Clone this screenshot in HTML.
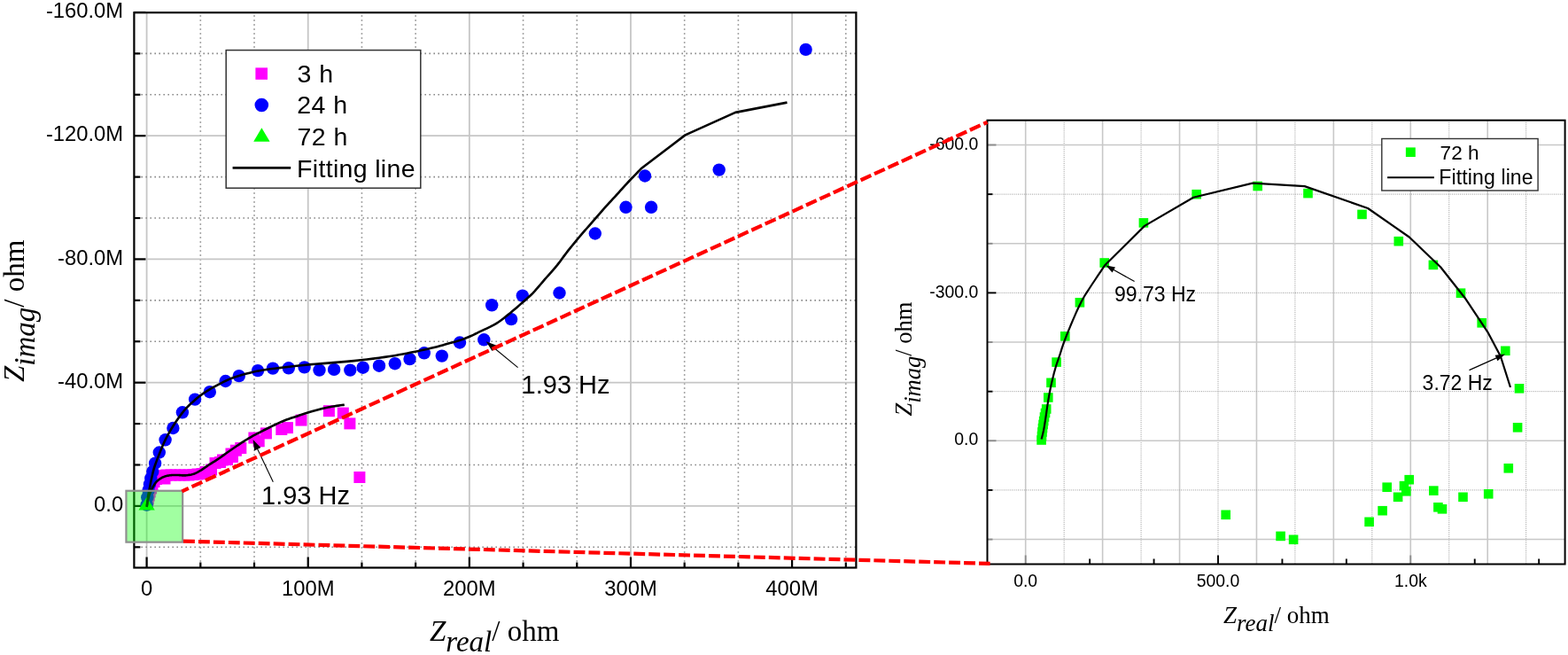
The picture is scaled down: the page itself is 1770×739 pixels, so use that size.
<!DOCTYPE html>
<html><head><meta charset="utf-8"><title>Nyquist plot</title>
<style>html,body{margin:0;padding:0;background:#fff;width:1770px;height:739px;overflow:hidden}</style>
</head><body>
<svg width="1770" height="739" viewBox="0 0 1770 739" style="display:block">
<rect x="0" y="0" width="1770" height="739" fill="#fff"/>
<g id="lgrid">
<line x1="165.6" y1="14.2" x2="165.6" y2="640.5" stroke="#c6c6c6" stroke-width="1.8"/>
<line x1="226.31" y1="17.2" x2="226.31" y2="640.5" stroke="#8a8a8a" stroke-width="1.6" stroke-dasharray="1.6 3.4"/>
<line x1="287.02" y1="17.2" x2="287.02" y2="640.5" stroke="#8a8a8a" stroke-width="1.6" stroke-dasharray="1.6 3.4"/>
<line x1="347.73" y1="14.2" x2="347.73" y2="640.5" stroke="#c6c6c6" stroke-width="1.8"/>
<line x1="408.43" y1="17.2" x2="408.43" y2="640.5" stroke="#8a8a8a" stroke-width="1.6" stroke-dasharray="1.6 3.4"/>
<line x1="469.14" y1="17.2" x2="469.14" y2="640.5" stroke="#8a8a8a" stroke-width="1.6" stroke-dasharray="1.6 3.4"/>
<line x1="529.85" y1="14.2" x2="529.85" y2="640.5" stroke="#c6c6c6" stroke-width="1.8"/>
<line x1="590.56" y1="17.2" x2="590.56" y2="640.5" stroke="#8a8a8a" stroke-width="1.6" stroke-dasharray="1.6 3.4"/>
<line x1="651.27" y1="17.2" x2="651.27" y2="640.5" stroke="#8a8a8a" stroke-width="1.6" stroke-dasharray="1.6 3.4"/>
<line x1="711.98" y1="14.2" x2="711.98" y2="640.5" stroke="#c6c6c6" stroke-width="1.8"/>
<line x1="772.68" y1="17.2" x2="772.68" y2="640.5" stroke="#8a8a8a" stroke-width="1.6" stroke-dasharray="1.6 3.4"/>
<line x1="833.39" y1="17.2" x2="833.39" y2="640.5" stroke="#8a8a8a" stroke-width="1.6" stroke-dasharray="1.6 3.4"/>
<line x1="894.1" y1="14.2" x2="894.1" y2="640.5" stroke="#c6c6c6" stroke-width="1.8"/>
<line x1="954.81" y1="17.2" x2="954.81" y2="640.5" stroke="#8a8a8a" stroke-width="1.6" stroke-dasharray="1.6 3.4"/>
<line x1="154.4" y1="617.31" x2="966.4" y2="617.31" stroke="#8a8a8a" stroke-width="1.6" stroke-dasharray="1.6 3.4"/>
<line x1="151.4" y1="570.9" x2="966.4" y2="570.9" stroke="#c6c6c6" stroke-width="1.8"/>
<line x1="154.4" y1="524.49" x2="966.4" y2="524.49" stroke="#8a8a8a" stroke-width="1.6" stroke-dasharray="1.6 3.4"/>
<line x1="154.4" y1="478.08" x2="966.4" y2="478.08" stroke="#8a8a8a" stroke-width="1.6" stroke-dasharray="1.6 3.4"/>
<line x1="151.4" y1="431.67" x2="966.4" y2="431.67" stroke="#c6c6c6" stroke-width="1.8"/>
<line x1="154.4" y1="385.26" x2="966.4" y2="385.26" stroke="#8a8a8a" stroke-width="1.6" stroke-dasharray="1.6 3.4"/>
<line x1="154.4" y1="338.85" x2="966.4" y2="338.85" stroke="#8a8a8a" stroke-width="1.6" stroke-dasharray="1.6 3.4"/>
<line x1="151.4" y1="292.44" x2="966.4" y2="292.44" stroke="#c6c6c6" stroke-width="1.8"/>
<line x1="154.4" y1="246.03" x2="966.4" y2="246.03" stroke="#8a8a8a" stroke-width="1.6" stroke-dasharray="1.6 3.4"/>
<line x1="154.4" y1="199.63" x2="966.4" y2="199.63" stroke="#8a8a8a" stroke-width="1.6" stroke-dasharray="1.6 3.4"/>
<line x1="151.4" y1="153.22" x2="966.4" y2="153.22" stroke="#c6c6c6" stroke-width="1.8"/>
<line x1="154.4" y1="106.81" x2="966.4" y2="106.81" stroke="#8a8a8a" stroke-width="1.6" stroke-dasharray="1.6 3.4"/>
<line x1="154.4" y1="60.4" x2="966.4" y2="60.4" stroke="#8a8a8a" stroke-width="1.6" stroke-dasharray="1.6 3.4"/>
</g>
<g stroke="#000" stroke-width="2.2">
<line x1="151.4" y1="617.31" x2="158.4" y2="617.31"/>
<line x1="151.4" y1="570.9" x2="164.4" y2="570.9"/>
<line x1="151.4" y1="524.49" x2="158.4" y2="524.49"/>
<line x1="151.4" y1="478.08" x2="158.4" y2="478.08"/>
<line x1="151.4" y1="431.67" x2="164.4" y2="431.67"/>
<line x1="151.4" y1="385.26" x2="158.4" y2="385.26"/>
<line x1="151.4" y1="338.85" x2="158.4" y2="338.85"/>
<line x1="151.4" y1="292.44" x2="164.4" y2="292.44"/>
<line x1="151.4" y1="246.03" x2="158.4" y2="246.03"/>
<line x1="151.4" y1="199.63" x2="158.4" y2="199.63"/>
<line x1="151.4" y1="153.22" x2="164.4" y2="153.22"/>
<line x1="151.4" y1="106.81" x2="158.4" y2="106.81"/>
<line x1="151.4" y1="60.4" x2="158.4" y2="60.4"/>
<line x1="151.4" y1="13.99" x2="164.4" y2="13.99"/>
<line x1="165.6" y1="640.5" x2="165.6" y2="628.5"/>
<line x1="226.31" y1="640.5" x2="226.31" y2="634.5"/>
<line x1="287.02" y1="640.5" x2="287.02" y2="634.5"/>
<line x1="347.73" y1="640.5" x2="347.73" y2="628.5"/>
<line x1="408.43" y1="640.5" x2="408.43" y2="634.5"/>
<line x1="469.14" y1="640.5" x2="469.14" y2="634.5"/>
<line x1="529.85" y1="640.5" x2="529.85" y2="628.5"/>
<line x1="590.56" y1="640.5" x2="590.56" y2="634.5"/>
<line x1="651.27" y1="640.5" x2="651.27" y2="634.5"/>
<line x1="711.98" y1="640.5" x2="711.98" y2="628.5"/>
<line x1="772.68" y1="640.5" x2="772.68" y2="634.5"/>
<line x1="833.39" y1="640.5" x2="833.39" y2="634.5"/>
<line x1="894.1" y1="640.5" x2="894.1" y2="628.5"/>
<line x1="954.81" y1="640.5" x2="954.81" y2="634.5"/>
</g>
<g font-family="'Liberation Sans', Arial, sans-serif" font-size="23.8" fill="#000">
<text x="139.2" y="20.19" text-anchor="end">-160.0M</text>
<text x="139.2" y="159.42" text-anchor="end">-120.0M</text>
<text x="139.2" y="298.64" text-anchor="end">-80.0M</text>
<text x="139.2" y="437.87" text-anchor="end">-40.0M</text>
<text x="139.2" y="577.1" text-anchor="end">0.0</text>
<text x="165.6" y="672" text-anchor="middle">0</text>
<text x="347.73" y="672" text-anchor="middle">100M</text>
<text x="529.85" y="672" text-anchor="middle">200M</text>
<text x="711.98" y="672" text-anchor="middle">300M</text>
<text x="894.1" y="672" text-anchor="middle">400M</text>
</g>
<g fill="#ff00ff">
<rect x="160" y="560.5" width="13" height="13"/>
<rect x="160.8" y="556.5" width="13" height="13"/>
<rect x="161.7" y="552.5" width="13" height="13"/>
<rect x="162.7" y="548.5" width="13" height="13"/>
<rect x="164" y="544.5" width="13" height="13"/>
<rect x="165.5" y="540.5" width="13" height="13"/>
<rect x="167.5" y="537" width="13" height="13"/>
<rect x="170" y="534" width="13" height="13"/>
<rect x="172.5" y="531.5" width="13" height="13"/>
<rect x="176.5" y="530" width="13" height="13"/>
<rect x="181.5" y="529.5" width="13" height="13"/>
<rect x="186.5" y="529.5" width="13" height="13"/>
<rect x="191.5" y="529.5" width="13" height="13"/>
<rect x="196.5" y="529.5" width="13" height="13"/>
<rect x="201.5" y="529.5" width="13" height="13"/>
<rect x="206.5" y="529.5" width="13" height="13"/>
<rect x="211.5" y="529" width="13" height="13"/>
<rect x="216.5" y="528.5" width="13" height="13"/>
<rect x="221.5" y="528" width="13" height="13"/>
<rect x="225.5" y="526" width="13" height="13"/>
<rect x="232" y="523.5" width="13" height="13"/>
<rect x="236.5" y="516" width="13" height="13"/>
<rect x="242" y="515" width="13" height="13"/>
<rect x="245" y="512.5" width="13" height="13"/>
<rect x="250" y="512" width="13" height="13"/>
<rect x="254.5" y="505.5" width="13" height="13"/>
<rect x="256" y="509" width="13" height="13"/>
<rect x="259.9" y="501.7" width="13" height="13"/>
<rect x="265.3" y="499" width="13" height="13"/>
<rect x="280.4" y="487.5" width="13" height="13"/>
<rect x="285.7" y="491.3" width="13" height="13"/>
<rect x="293.9" y="482.4" width="13" height="13"/>
<rect x="311.3" y="478" width="13" height="13"/>
<rect x="317.9" y="476.1" width="13" height="13"/>
<rect x="333.5" y="467.6" width="13" height="13"/>
<rect x="364.9" y="457.2" width="13" height="13"/>
<rect x="380.8" y="459.6" width="13" height="13"/>
<rect x="388.4" y="471.4" width="13" height="13"/>
<rect x="399.4" y="532" width="13" height="13"/>
<rect x="175.5" y="532" width="13" height="13"/>
<rect x="179.5" y="533.5" width="13" height="13"/>
</g>
<g fill="#0000ff">
<circle cx="165.6" cy="569.6" r="7.2"/>
<circle cx="166.3" cy="561.3" r="7.2"/>
<circle cx="167.6" cy="553.1" r="7.2"/>
<circle cx="169" cy="546.4" r="7.2"/>
<circle cx="170.3" cy="539.6" r="7.2"/>
<circle cx="172.3" cy="532.1" r="7.2"/>
<circle cx="175.1" cy="522.7" r="7.2"/>
<circle cx="179.8" cy="510.5" r="7.2"/>
<circle cx="186.6" cy="496.3" r="7.2"/>
<circle cx="195.4" cy="483" r="7.2"/>
<circle cx="205.9" cy="465.3" r="7.2"/>
<circle cx="220.1" cy="450.6" r="7.2"/>
<circle cx="236.8" cy="442.2" r="7.2"/>
<circle cx="254.6" cy="430" r="7.2"/>
<circle cx="269.8" cy="424.1" r="7.2"/>
<circle cx="291" cy="418.1" r="7.2"/>
<circle cx="308" cy="415.6" r="7.2"/>
<circle cx="325.8" cy="415.3" r="7.2"/>
<circle cx="343.6" cy="414.4" r="7.2"/>
<circle cx="360.5" cy="417.6" r="7.2"/>
<circle cx="377.1" cy="416.9" r="7.2"/>
<circle cx="395.3" cy="417.6" r="7.2"/>
<circle cx="409.7" cy="414.7" r="7.2"/>
<circle cx="428" cy="412.7" r="7.2"/>
<circle cx="445.8" cy="410.2" r="7.2"/>
<circle cx="462.5" cy="405.1" r="7.2"/>
<circle cx="478.8" cy="398.3" r="7.2"/>
<circle cx="498.8" cy="401.6" r="7.2"/>
<circle cx="519" cy="386.5" r="7.2"/>
<circle cx="546.3" cy="383.3" r="7.2"/>
<circle cx="555.2" cy="344.3" r="7.2"/>
<circle cx="577.1" cy="360.1" r="7.2"/>
<circle cx="589.8" cy="333.6" r="7.2"/>
<circle cx="631.5" cy="330.5" r="7.2"/>
<circle cx="671.8" cy="263.5" r="7.2"/>
<circle cx="706.5" cy="233.8" r="7.2"/>
<circle cx="735.1" cy="233.8" r="7.2"/>
<circle cx="728" cy="198.5" r="7.2"/>
<circle cx="811.7" cy="191.6" r="7.2"/>
<circle cx="909.6" cy="55.9" r="7.2"/>
</g>
<path d="M165.6,561 L174.8,575.5 L156.4,575.5 Z" fill="#00ff00"/>
<polyline points="165.8,570.9 165.96,569.59 166.17,567.76 166.43,565.59 166.71,563.29 167,561.03 167.3,559 167.6,557.2 167.92,555.48 168.25,553.81 168.59,552.14 168.94,550.45 169.3,548.7 169.66,546.88 170.03,545.01 170.41,543.11 170.79,541.21 171.19,539.34 171.6,537.5 171.99,535.76 172.36,534.11 172.74,532.49 173.17,530.81 173.68,529 174.3,527 175.05,524.77 175.9,522.37 176.84,519.85 177.83,517.25 178.86,514.62 179.9,512 180.95,509.38 182.02,506.71 183.12,504.02 184.28,501.31 185.5,498.6 186.8,495.9 188.17,493.22 189.61,490.53 191.11,487.85 192.68,485.17 194.31,482.48 196,479.8 197.78,477.06 199.66,474.26 201.61,471.46 203.58,468.73 205.56,466.12 207.5,463.7 209.42,461.49 211.33,459.43 213.25,457.51 215.17,455.68 217.08,453.92 219,452.2 220.86,450.56 222.66,449.03 224.46,447.57 226.33,446.14 228.32,444.69 230.5,443.2 232.89,441.64 235.44,440.06 238.12,438.46 240.89,436.87 243.73,435.31 246.6,433.8 249.45,432.34 252.28,430.9 255.18,429.49 258.22,428.12 261.47,426.79 265,425.5 268.86,424.24 272.99,422.99 277.34,421.79 281.83,420.64 286.41,419.57 291,418.6 295.66,417.74 300.46,416.99 305.34,416.31 310.25,415.69 315.16,415.09 320,414.5 324.53,413.94 328.74,413.44 332.93,412.96 337.43,412.49 342.55,411.97 348.6,411.4 355.91,410.76 364.3,410.09 373.31,409.37 382.48,408.64 391.36,407.88 399.5,407.1 407,406.3 414.26,405.46 421.23,404.59 427.86,403.72 434.13,402.85 440,402 445.37,401.16 450.25,400.33 454.76,399.49 459.03,398.66 463.17,397.83 467.3,397 471.4,396.17 475.38,395.33 479.23,394.5 482.95,393.67 486.54,392.83 490,392 493.35,391.14 496.61,390.26 499.73,389.38 502.69,388.52 505.46,387.72 508,387 510.24,386.4 512.19,385.9 513.94,385.45 515.59,385.01 517.25,384.55 519,384 520.84,383.38 522.68,382.72 524.52,382.03 526.36,381.31 528.19,380.57 530,379.8 531.69,379.05 533.24,378.33 534.78,377.59 536.43,376.77 538.33,375.82 540.6,374.7 543.36,373.39 546.53,371.93 549.95,370.34 553.44,368.66 556.85,366.9 560,365.1 562.91,363.22 565.71,361.23 568.43,359.16 571.07,357.06 573.65,354.96 576.2,352.9 578.72,350.84 581.19,348.76 583.61,346.67 585.96,344.61 588.23,342.61 590.4,340.7 592.42,338.95 594.28,337.37 596.06,335.84 597.83,334.27 599.65,332.55 601.6,330.6 603.67,328.37 605.81,325.95 608.01,323.39 610.25,320.74 612.52,318.06 614.8,315.4 617.13,312.75 619.53,310.04 621.96,307.31 624.38,304.57 626.74,301.82 629,299.1 631.13,296.41 633.14,293.73 635.1,291.06 637.06,288.37 639.07,285.66 641.2,282.9 643.45,280.08 645.79,277.21 648.18,274.31 650.59,271.4 653.01,268.53 655.4,265.7 657.77,262.93 660.13,260.2 662.5,257.49 664.87,254.79 667.23,252.1 669.6,249.4 671.99,246.66 674.41,243.88 676.83,241.11 679.22,238.37 681.55,235.73 683.8,233.2 685.92,230.85 687.91,228.66 689.86,226.56 691.8,224.46 693.79,222.3 695.9,220 698.14,217.54 700.46,214.97 702.83,212.33 705.23,209.68 707.63,207.05 710,204.5 712.5,201.86 715.19,199.06 717.88,196.28 720.37,193.72 722.48,191.57 724,190 773.5,152.4 830.1,126.9 888.5,115.6" fill="none" stroke="#000" stroke-width="2.6" stroke-linejoin="round"/>
<polyline points="165.6,572.1 165.8,570.97 166.07,569.38 166.39,567.51 166.75,565.53 167.13,563.64 167.5,562 167.85,560.65 168.18,559.45 168.53,558.32 168.93,557.21 169.41,556.02 170,554.7 170.73,553.17 171.59,551.47 172.52,549.7 173.49,547.97 174.47,546.37 175.4,545 176.3,543.88 177.21,542.92 178.11,542.1 179.01,541.38 179.91,540.72 180.8,540.1 181.67,539.53 182.53,539.04 183.38,538.62 184.24,538.26 185.11,537.92 186,537.6 186.93,537.3 187.88,537.04 188.84,536.81 189.81,536.61 190.77,536.44 191.7,536.3 192.6,536.19 193.49,536.11 194.36,536.06 195.23,536.03 196.11,536.02 197,536 197.92,535.99 198.86,536 199.8,536.01 200.73,536.04 201.64,536.07 202.5,536.1 203.31,536.14 204.09,536.2 204.83,536.27 205.56,536.33 206.28,536.38 207,536.4 207.68,536.41 208.3,536.42 208.91,536.41 209.57,536.38 210.31,536.31 211.2,536.2 212.26,536.05 213.45,535.88 214.74,535.68 216.07,535.42 217.41,535.1 218.7,534.7 219.95,534.22 221.19,533.68 222.43,533.08 223.68,532.41 224.97,531.68 226.3,530.9 227.66,530.05 229.04,529.12 230.45,528.14 231.9,527.11 233.42,526.06 235,525 236.68,523.93 238.44,522.83 240.27,521.71 242.12,520.57 243.98,519.4 245.8,518.2 247.6,516.97 249.4,515.69 251.19,514.39 252.99,513.09 254.79,511.78 256.6,510.5 258.41,509.23 260.23,507.97 262.05,506.71 263.87,505.46 265.69,504.22 267.5,503 269.3,501.8 271.07,500.61 272.85,499.44 274.64,498.29 276.45,497.14 278.3,496 280.13,494.9 281.92,493.85 283.74,492.81 285.64,491.74 287.71,490.62 290,489.4 292.61,488.04 295.52,486.56 298.58,485.02 301.67,483.49 304.65,482.03 307.4,480.7 309.87,479.51 312.17,478.41 314.36,477.38 316.52,476.39 318.71,475.44 321,474.5 323.4,473.58 325.87,472.7 328.36,471.85 330.87,471.02 333.35,470.21 335.8,469.4 338.18,468.6 340.51,467.82 342.82,467.05 345.15,466.29 347.53,465.54 350,464.8 352.62,464.04 355.38,463.27 358.19,462.51 360.97,461.77 363.64,461.1 366.1,460.5 368.34,459.99 370.42,459.56 372.38,459.18 374.27,458.83 376.13,458.51 378,458.2 379.99,457.89 382.08,457.59 384.14,457.31 386.04,457.06 387.64,456.85 388.8,456.7" fill="none" stroke="#000" stroke-width="2.6" stroke-linejoin="round"/>
<line x1="308.3" y1="543.8" x2="289.88" y2="504.94" stroke="#000" stroke-width="1.1"/><path d="M285.6,495.9 L294.35,505.03 L287.12,508.46 Z" fill="#000"/>
<line x1="584.6" y1="414.6" x2="556.44" y2="391.54" stroke="#000" stroke-width="1.1"/><path d="M548.7,385.2 L560.52,389.71 L555.45,395.9 Z" fill="#000"/>
<g font-family="'Liberation Sans', Arial, sans-serif" font-size="29" fill="#000">
<text x="295" y="568.8">1.93 Hz</text>
<text x="588.6" y="444">1.93 Hz</text>
</g>
<rect x="151.4" y="14.2" width="815" height="626.3" fill="none" stroke="#000" stroke-width="2.2"/>
<rect x="142.45" y="553.75" width="63.7" height="57.9" fill="#00ff00" fill-opacity="0.37" stroke="#8f8f8f" stroke-width="2.2"/>
<rect x="255.2" y="56.6" width="219.6" height="155.6" fill="#fff" stroke="#333" stroke-width="1.5"/>
<rect x="288.4" y="76.4" width="13.6" height="13.4" fill="#ff00ff"/>
<circle cx="295.3" cy="118.5" r="7.8" fill="#0000ff"/>
<path d="M295.4,144.3 L304.6,159.7 L286.2,159.7 Z" fill="#00ff00"/>
<line x1="262.6" y1="189.4" x2="328.2" y2="189.4" stroke="#000" stroke-width="2.6"/>
<g font-family="'Liberation Sans', Arial, sans-serif" font-size="28.5" letter-spacing="0.5" fill="#000">
<text x="335.6" y="92.7">3 h</text>
<text x="335.2" y="128.2">24 h</text>
<text x="335.4" y="163.7">72 h</text>
<text x="335" y="199.8" letter-spacing="0.33">Fitting line</text>
</g>
<text x="485" y="723" font-family="'Liberation Serif', 'Times New Roman', serif" font-size="33" fill="#000"><tspan font-style="italic">Z</tspan><tspan font-style="italic" dy="12">real</tspan><tspan dy="-12">/ ohm</tspan></text>
<text transform="translate(27.3,431) rotate(-90)" x="0" y="0" font-family="'Liberation Serif', 'Times New Roman', serif" font-size="33" fill="#000"><tspan font-style="italic">Z</tspan><tspan font-style="italic" dy="12">imag</tspan><tspan dy="-12">/ ohm</tspan></text>
<g id="rgrid">
<line x1="1157.7" y1="135.7" x2="1157.7" y2="636.5" stroke="#c8c8c8" stroke-width="1.6"/>
<line x1="1201.16" y1="135.7" x2="1201.16" y2="636.5" stroke="#989898" stroke-width="1" stroke-dasharray="1 1.3"/>
<line x1="1244.62" y1="135.7" x2="1244.62" y2="636.5" stroke="#c8c8c8" stroke-width="1.6"/>
<line x1="1288.08" y1="135.7" x2="1288.08" y2="636.5" stroke="#989898" stroke-width="1" stroke-dasharray="1 1.3"/>
<line x1="1331.54" y1="135.7" x2="1331.54" y2="636.5" stroke="#c8c8c8" stroke-width="1.6"/>
<line x1="1375" y1="135.7" x2="1375" y2="636.5" stroke="#989898" stroke-width="1" stroke-dasharray="1 1.3"/>
<line x1="1418.46" y1="135.7" x2="1418.46" y2="636.5" stroke="#c8c8c8" stroke-width="1.6"/>
<line x1="1461.92" y1="135.7" x2="1461.92" y2="636.5" stroke="#989898" stroke-width="1" stroke-dasharray="1 1.3"/>
<line x1="1505.38" y1="135.7" x2="1505.38" y2="636.5" stroke="#c8c8c8" stroke-width="1.6"/>
<line x1="1548.84" y1="135.7" x2="1548.84" y2="636.5" stroke="#989898" stroke-width="1" stroke-dasharray="1 1.3"/>
<line x1="1592.3" y1="135.7" x2="1592.3" y2="636.5" stroke="#c8c8c8" stroke-width="1.6"/>
<line x1="1635.76" y1="135.7" x2="1635.76" y2="636.5" stroke="#989898" stroke-width="1" stroke-dasharray="1 1.3"/>
<line x1="1679.22" y1="135.7" x2="1679.22" y2="636.5" stroke="#c8c8c8" stroke-width="1.6"/>
<line x1="1722.68" y1="135.7" x2="1722.68" y2="636.5" stroke="#989898" stroke-width="1" stroke-dasharray="1 1.3"/>
<line x1="1114.5" y1="163.52" x2="1766.6" y2="163.52" stroke="#c8c8c8" stroke-width="1.6"/>
<line x1="1114.5" y1="219.15" x2="1766.6" y2="219.15" stroke="#989898" stroke-width="1" stroke-dasharray="1 1.3"/>
<line x1="1114.5" y1="274.78" x2="1766.6" y2="274.78" stroke="#c8c8c8" stroke-width="1.6"/>
<line x1="1114.5" y1="330.41" x2="1766.6" y2="330.41" stroke="#989898" stroke-width="1" stroke-dasharray="1 1.3"/>
<line x1="1114.5" y1="386.04" x2="1766.6" y2="386.04" stroke="#c8c8c8" stroke-width="1.6"/>
<line x1="1114.5" y1="441.67" x2="1766.6" y2="441.67" stroke="#989898" stroke-width="1" stroke-dasharray="1 1.3"/>
<line x1="1114.5" y1="497.3" x2="1766.6" y2="497.3" stroke="#c8c8c8" stroke-width="1.6"/>
<line x1="1114.5" y1="552.93" x2="1766.6" y2="552.93" stroke="#989898" stroke-width="1" stroke-dasharray="1 1.3"/>
<line x1="1114.5" y1="608.56" x2="1766.6" y2="608.56" stroke="#c8c8c8" stroke-width="1.6"/>
</g>
<g stroke-width="1.9">
<line x1="1114.5" y1="163.52" x2="1124.5" y2="163.52" stroke="#8c8c8c"/>
<line x1="1114.5" y1="219.15" x2="1120.5" y2="219.15" stroke="#000"/>
<line x1="1114.5" y1="274.78" x2="1120.5" y2="274.78" stroke="#8c8c8c"/>
<line x1="1114.5" y1="330.41" x2="1124.5" y2="330.41" stroke="#000"/>
<line x1="1114.5" y1="386.04" x2="1120.5" y2="386.04" stroke="#8c8c8c"/>
<line x1="1114.5" y1="441.67" x2="1120.5" y2="441.67" stroke="#000"/>
<line x1="1114.5" y1="497.3" x2="1124.5" y2="497.3" stroke="#8c8c8c"/>
<line x1="1114.5" y1="552.93" x2="1120.5" y2="552.93" stroke="#000"/>
<line x1="1114.5" y1="608.56" x2="1120.5" y2="608.56" stroke="#8c8c8c"/>
<line x1="1157.7" y1="636.5" x2="1157.7" y2="626.5" stroke="#8c8c8c"/>
<line x1="1230.13" y1="636.5" x2="1230.13" y2="630.5" stroke="#000"/>
<line x1="1302.57" y1="636.5" x2="1302.57" y2="630.5" stroke="#000"/>
<line x1="1375" y1="636.5" x2="1375" y2="626.5" stroke="#000"/>
<line x1="1447.43" y1="636.5" x2="1447.43" y2="630.5" stroke="#000"/>
<line x1="1519.87" y1="636.5" x2="1519.87" y2="630.5" stroke="#000"/>
<line x1="1592.3" y1="636.5" x2="1592.3" y2="626.5" stroke="#8c8c8c"/>
<line x1="1664.73" y1="636.5" x2="1664.73" y2="630.5" stroke="#000"/>
<line x1="1737.17" y1="636.5" x2="1737.17" y2="630.5" stroke="#000"/>
</g>
<g font-family="'Liberation Sans', Arial, sans-serif" font-size="19.4" fill="#000">
<text x="1104.3" y="168.62" text-anchor="end">-600.0</text>
<text x="1104.3" y="335.51" text-anchor="end">-300.0</text>
<text x="1104.3" y="502.4" text-anchor="end">0.0</text>
<text x="1157.7" y="661.8" text-anchor="middle">0.0</text>
<text x="1375" y="661.8" text-anchor="middle">500.0</text>
<text x="1592.3" y="661.8" text-anchor="middle">1.0k</text>
</g>
<g fill="#00ff00">
<rect x="1170.3" y="491.2" width="10.6" height="10.6"/>
<rect x="1170.7" y="486.7" width="10.6" height="10.6"/>
<rect x="1171.2" y="482.2" width="10.6" height="10.6"/>
<rect x="1171.7" y="477.7" width="10.6" height="10.6"/>
<rect x="1172.3" y="473.7" width="10.6" height="10.6"/>
<rect x="1172.9" y="469.7" width="10.6" height="10.6"/>
<rect x="1173.7" y="465.2" width="10.6" height="10.6"/>
<rect x="1174.7" y="460.7" width="10.6" height="10.6"/>
<rect x="1175.9" y="456.2" width="10.6" height="10.6"/>
<rect x="1178" y="443.2" width="10.6" height="10.6"/>
<rect x="1181.2" y="426.5" width="10.6" height="10.6"/>
<rect x="1187.3" y="403.3" width="10.6" height="10.6"/>
<rect x="1197" y="374.1" width="10.6" height="10.6"/>
<rect x="1213.6" y="336" width="10.6" height="10.6"/>
<rect x="1241.4" y="291.2" width="10.6" height="10.6"/>
<rect x="1285.6" y="246.1" width="10.6" height="10.6"/>
<rect x="1345.4" y="213.9" width="10.6" height="10.6"/>
<rect x="1414.4" y="204.7" width="10.6" height="10.6"/>
<rect x="1471.2" y="212.8" width="10.6" height="10.6"/>
<rect x="1532.2" y="236.6" width="10.6" height="10.6"/>
<rect x="1573.5" y="266.9" width="10.6" height="10.6"/>
<rect x="1612.6" y="293.6" width="10.6" height="10.6"/>
<rect x="1643.7" y="325.4" width="10.6" height="10.6"/>
<rect x="1667.4" y="359" width="10.6" height="10.6"/>
<rect x="1694" y="390.5" width="10.6" height="10.6"/>
<rect x="1709.7" y="433" width="10.6" height="10.6"/>
<rect x="1707.8" y="477" width="10.6" height="10.6"/>
<rect x="1697.5" y="523" width="10.6" height="10.6"/>
<rect x="1674.9" y="552" width="10.6" height="10.6"/>
<rect x="1646.2" y="555.5" width="10.6" height="10.6"/>
<rect x="1622.7" y="569" width="10.6" height="10.6"/>
<rect x="1618.1" y="567" width="10.6" height="10.6"/>
<rect x="1613" y="548.3" width="10.6" height="10.6"/>
<rect x="1585.4" y="535.9" width="10.6" height="10.6"/>
<rect x="1582" y="549" width="10.6" height="10.6"/>
<rect x="1579.7" y="542.8" width="10.6" height="10.6"/>
<rect x="1572.8" y="555.5" width="10.6" height="10.6"/>
<rect x="1560.4" y="544.4" width="10.6" height="10.6"/>
<rect x="1555.3" y="570.9" width="10.6" height="10.6"/>
<rect x="1540.3" y="583.5" width="10.6" height="10.6"/>
<rect x="1454.8" y="603.5" width="10.6" height="10.6"/>
<rect x="1440.3" y="599.6" width="10.6" height="10.6"/>
<rect x="1378.4" y="575.5" width="10.6" height="10.6"/>
</g>
<polyline points="1175.6,495.5 1175.86,494.5 1176.22,493.17 1176.65,491.56 1177.11,489.76 1177.57,487.81 1178,485.8 1178.4,483.68 1178.8,481.39 1179.19,478.96 1179.59,476.43 1179.99,473.83 1180.4,471.2 1180.8,468.52 1181.19,465.77 1181.58,462.95 1181.98,460.06 1182.42,457.11 1182.9,454.1 1183.42,451 1183.97,447.81 1184.55,444.55 1185.16,441.26 1185.81,437.97 1186.5,434.7 1187.24,431.4 1188.04,428.03 1188.87,424.65 1189.72,421.34 1190.57,418.17 1191.4,415.2 1192.22,412.48 1193.04,409.97 1193.86,407.59 1194.67,405.29 1195.49,402.98 1196.3,400.6 1197.05,398.28 1197.72,396.1 1198.39,393.91 1199.13,391.59 1200.01,389 1201.1,386 1202.45,382.46 1204,378.47 1205.69,374.21 1207.46,369.85 1209.21,365.59 1210.9,361.6 1212.53,357.83 1214.15,354.11 1215.77,350.49 1217.39,347 1219,343.65 1220.6,340.5 1222.09,337.71 1223.47,335.3 1224.83,333.04 1226.3,330.71 1227.99,328.11 1230,325 1232.61,321.01 1235.79,316.24 1239.19,311.18 1242.45,306.34 1245.24,302.21 1247.2,299.3 1292,254.9 1347.2,222.7 1414,206.6 1472.7,210.1 1544.1,235 1590.8,267.5 1626.3,301.5 1653.7,336.2 1679.3,374.6 1693.9,402 1705,437" fill="none" stroke="#000" stroke-width="2.2" stroke-linejoin="round"/>
<line x1="1280.6" y1="317.6" x2="1255.51" y2="303.47" stroke="#000" stroke-width="1.2"/><path d="M1248.1,299.3 L1258.97,301.4 L1255.53,307.5 Z" fill="#000"/>
<line x1="1658.5" y1="417.6" x2="1690.88" y2="403.16" stroke="#000" stroke-width="1.2"/><path d="M1699.1,399.5 L1690.48,407.18 L1687.63,400.78 Z" fill="#000"/>
<g font-family="'Liberation Sans', Arial, sans-serif" font-size="23" fill="#000">
<text x="1258" y="339.7">99.73 Hz</text>
<text x="1605.6" y="439.8">3.72 Hz</text>
</g>
<rect x="1114.5" y="135.7" width="652.1" height="500.8" fill="none" stroke="#000" stroke-width="2"/>
<rect x="1559.8" y="156.5" width="176.3" height="58.5" fill="#fff" stroke="#333" stroke-width="1.4"/>
<rect x="1586.9" y="166.4" width="10.9" height="10.6" fill="#00ff00"/>
<line x1="1566.1" y1="200.2" x2="1618.9" y2="200.2" stroke="#000" stroke-width="2"/>
<g font-family="'Liberation Sans', Arial, sans-serif" font-size="23.1" letter-spacing="0.1" fill="#000">
<text x="1625.6" y="179.6" font-size="22.6" letter-spacing="0">72 h</text>
<text x="1624.3" y="207.9">Fitting line</text>
</g>
<text x="1381" y="702.8" font-family="'Liberation Serif', 'Times New Roman', serif" font-size="27" fill="#000"><tspan font-style="italic">Z</tspan><tspan font-style="italic" dy="9.3">real</tspan><tspan dy="-9.3">/ ohm</tspan></text>
<text transform="translate(1029.2,469.6) rotate(-90)" x="0" y="0" font-family="'Liberation Serif', 'Times New Roman', serif" font-size="26.5" fill="#000"><tspan font-style="italic">Z</tspan><tspan font-style="italic" dy="9.3">imag</tspan><tspan dy="-9.3">/ ohm</tspan></text>
<g stroke="#ff0000" stroke-width="4.2" stroke-dasharray="12.9 4.05" fill="none">
<line x1="205.4" y1="554.3" x2="1114.5" y2="137.8" stroke-dashoffset="4.7"/>
<line x1="207" y1="610.6" x2="1117.6" y2="635.9"/>
</g>
</svg>
</body></html>
